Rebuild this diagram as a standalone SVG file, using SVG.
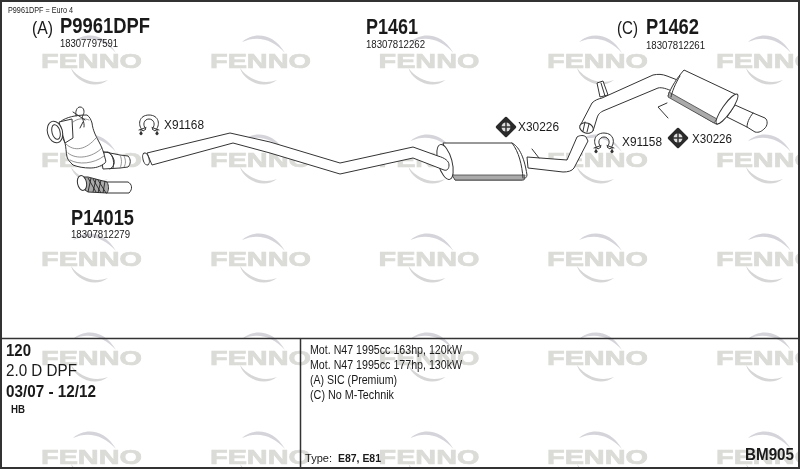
<svg xmlns="http://www.w3.org/2000/svg" xmlns:xlink="http://www.w3.org/1999/xlink" width="800" height="469" viewBox="0 0 800 469">
<style>
text{font-family:"Liberation Sans",Arial,sans-serif;fill:#1a1a1a}
.w{font-size:20px;font-weight:700;fill:#dbdcd8;stroke:#dbdcd8;stroke-width:.7}
.b{font-weight:700}
.p{fill:#fff;stroke:#333;stroke-width:1;stroke-linejoin:round}
.n{fill:none;stroke:#333;stroke-width:1;stroke-linecap:round;stroke-linejoin:round}
.l{fill:none;stroke:#777;stroke-width:.8;stroke-linecap:round}
.f{fill:#333;stroke:#222;stroke-width:.6}
</style>
<defs>
<filter id="soft" x="-5%" y="-5%" width="110%" height="110%"><feGaussianBlur stdDeviation=".35"/></filter>
<g id="arc"><path d="M33 -12C44 -22 64 -22 76 -1C64 -15 48 -19 33 -12Z" fill="#d4d4da"/><path d="M31 14C34 26 54 37 68 26C54 31 40 26 31 14Z" fill="#d6d6d6"/></g>
<g id="clamp"><path class="p" d="M-6 7C-12 1 -10 -9 0 -9C10 -9 12 1 6 7L3 5C7 1 5 -5 0 -5C-5 -5 -7 1 -3 5Z"/><path class="n" d="M-10 6L-3 3.500M-8 5.500V9M10 6L3 3.500M8 5.500V9"/><circle cx="-8" cy="9.500" r="1.300" class="f"/><circle cx="8" cy="9.500" r="1.300" class="f"/></g>
<g id="gasket"><path d="M0 -9L9 0L0 9L-9 0Z" fill="#2b2b2b" stroke="#2b2b2b" stroke-linejoin="round" stroke-width="2.500"/><circle r="4.500" fill="#ddd"/><path d="M0 -5V5M-5 0H5" stroke="#333" stroke-width="1.500"/></g>
</defs>
<rect width="800" height="469" fill="#fff"/>
<g id="watermark" filter="url(#soft)">
<use xlink:href="#arc" x="40" y="54"/><use xlink:href="#arc" x="209" y="54"/><use xlink:href="#arc" x="377.500" y="54"/><use xlink:href="#arc" x="546" y="54"/><use xlink:href="#arc" x="715" y="54"/>
<use xlink:href="#arc" x="40" y="153"/><use xlink:href="#arc" x="209" y="153"/><use xlink:href="#arc" x="377.500" y="153"/><use xlink:href="#arc" x="546" y="153"/><use xlink:href="#arc" x="715" y="153"/>
<use xlink:href="#arc" x="40" y="252"/><use xlink:href="#arc" x="209" y="252"/><use xlink:href="#arc" x="377.500" y="252"/><use xlink:href="#arc" x="546" y="252"/><use xlink:href="#arc" x="715" y="252"/>
<use xlink:href="#arc" x="40" y="351"/><use xlink:href="#arc" x="209" y="351"/><use xlink:href="#arc" x="377.500" y="351"/><use xlink:href="#arc" x="546" y="351"/><use xlink:href="#arc" x="715" y="351"/>
<use xlink:href="#arc" x="40" y="450"/><use xlink:href="#arc" x="209" y="450"/><use xlink:href="#arc" x="377.500" y="450"/><use xlink:href="#arc" x="546" y="450"/><use xlink:href="#arc" x="715" y="450"/>
<text class="w" x="41" y="68" textLength="101" lengthAdjust="spacingAndGlyphs">FENNO</text><text class="w" x="210" y="68" textLength="101" lengthAdjust="spacingAndGlyphs">FENNO</text><text class="w" x="378.500" y="68" textLength="101" lengthAdjust="spacingAndGlyphs">FENNO</text><text class="w" x="547" y="68" textLength="101" lengthAdjust="spacingAndGlyphs">FENNO</text><text class="w" x="716" y="68" textLength="101" lengthAdjust="spacingAndGlyphs">FENNO</text>
<text class="w" x="41" y="167" textLength="101" lengthAdjust="spacingAndGlyphs">FENNO</text><text class="w" x="210" y="167" textLength="101" lengthAdjust="spacingAndGlyphs">FENNO</text><text class="w" x="378.500" y="167" textLength="101" lengthAdjust="spacingAndGlyphs">FENNO</text><text class="w" x="547" y="167" textLength="101" lengthAdjust="spacingAndGlyphs">FENNO</text><text class="w" x="716" y="167" textLength="101" lengthAdjust="spacingAndGlyphs">FENNO</text>
<text class="w" x="41" y="266" textLength="101" lengthAdjust="spacingAndGlyphs">FENNO</text><text class="w" x="210" y="266" textLength="101" lengthAdjust="spacingAndGlyphs">FENNO</text><text class="w" x="378.500" y="266" textLength="101" lengthAdjust="spacingAndGlyphs">FENNO</text><text class="w" x="547" y="266" textLength="101" lengthAdjust="spacingAndGlyphs">FENNO</text><text class="w" x="716" y="266" textLength="101" lengthAdjust="spacingAndGlyphs">FENNO</text>
<text class="w" x="41" y="365" textLength="101" lengthAdjust="spacingAndGlyphs">FENNO</text><text class="w" x="210" y="365" textLength="101" lengthAdjust="spacingAndGlyphs">FENNO</text><text class="w" x="378.500" y="365" textLength="101" lengthAdjust="spacingAndGlyphs">FENNO</text><text class="w" x="547" y="365" textLength="101" lengthAdjust="spacingAndGlyphs">FENNO</text><text class="w" x="716" y="365" textLength="101" lengthAdjust="spacingAndGlyphs">FENNO</text>
<text class="w" x="41" y="464" textLength="101" lengthAdjust="spacingAndGlyphs">FENNO</text><text class="w" x="210" y="464" textLength="101" lengthAdjust="spacingAndGlyphs">FENNO</text><text class="w" x="378.500" y="464" textLength="101" lengthAdjust="spacingAndGlyphs">FENNO</text><text class="w" x="547" y="464" textLength="101" lengthAdjust="spacingAndGlyphs">FENNO</text><text class="w" x="716" y="464" textLength="101" lengthAdjust="spacingAndGlyphs">FENNO</text>
</g>
<g id="frame" fill="none" stroke="#333">
<rect x="1" y="1" width="798" height="467" stroke-width="2"/>
<path d="M1 338.500H799M300.500 338V468" stroke-width="1.500"/>
</g>
<g id="part-dpf" filter="url(#soft)">
<path class="p" d="M100 151L120 155L128 156C131 159 131 164 128 167L120 168L103 169Z"/>
<path class="l" d="M120 155C122 159 122 164 120 168M124 156C126 160 126 164 124 167"/>
<path class="n" d="M104 153C108 150 112 154 114 160C115 164 113 167 110 169M108 152C112 154 115 160 113 168"/>
<path class="p" d="M60 122C66 117 76 115 87 115C90 117 91 120 92 123C93 131 96 136 98 140C102 147 104 153 105 158C106 161 106 162 105 163C100 167 95 168 90 168C84 168 78 167 73 165C70 162 68 160 67 157C66 152 66 147 65 143C62 137 60 130 60 122Z"/>
<path class="l" d="M66 144C74 152 86 150 96 138M68 153C76 160 92 158 102 148M70 160C78 165 94 164 104 156M73 122C78 118 84 118 89 120"/>
<path class="p" d="M59 122L72 119L73 138L65 143Z"/>
<ellipse class="p" cx="55" cy="132" rx="7.500" ry="11" transform="rotate(-15 55 132)"/>
<ellipse class="n" cx="56" cy="132" rx="4" ry="7.500" transform="rotate(-15 56 132)"/>
<path class="n" stroke-width="1.300" d="M76 116C75 111 77 107 80 107C84 107 85 112 83 115C81 118 85 122 84 127M80 128L83 122M73 112L85 120"/>
</g>
<g id="part-p14015" filter="url(#soft)">
<path class="p" d="M104 182L128 182C132 184 133 189 129 193L106 193Z"/>
<path d="M84 177L88 177L107 182C109 186 109 190 107 193L88 192L85 190Z" fill="#aaa" stroke="#333"/>
<path d="M91 178L88 192M96 179L93 192M101 180L98 193M105 181L103 193M88 178L96 192M93 179L101 193M98 180L106 193" stroke="#222" stroke-width=".9" fill="none"/>
<ellipse class="p" cx="82" cy="183" rx="4.500" ry="7.500" transform="rotate(-12 82 183)"/>
</g>
<g id="part-p1461" filter="url(#soft)">
<path class="p" d="M443 143H512C518 146 524 155 527 175C527 177 525 179 522 180H455C450 168 446 155 443 143Z"/>
<path fill="#aaa" stroke="#444" stroke-width=".8" d="M452 175L525 175L524 180H455Z"/>
<path class="n" d="M512 143C519 152 522 165 523 178"/>
<ellipse class="p" cx="445" cy="162" rx="7" ry="18" transform="rotate(-15 445 162)"/>
<path class="p" d="M147 153L230 133L270 142L340 163L413 147L438 156C445 158 449 161 449 165C449 169 447 171 444 170L413 158L340 174L270 153L233 143L152 165Z"/>
<ellipse class="p" cx="146" cy="159" rx="3" ry="6.200" transform="rotate(-15 146 159)"/>
<path class="p" d="M527 157L567 160L577 137C580 135 584 135 586 137L588 141L574 168C572 171 568 172 563 172L528 168Z"/>
<path class="n" stroke-width="1.400" d="M532 149L539 158"/>
</g>
<g id="part-p1462" filter="url(#soft)">
<path class="p" d="M600 97L597 83L603 81L608 95Z"/>
<path class="n" d="M601 83L605 96"/>
<path class="p" d="M580 126L592 103C595 100 598 99 602 98L653 75C658 74 662 74 667 76L680 81L672 91C667 89 662 87 658 88L603 111C599 113 598 115 597 118L593 131C588 134 582 131 580 126Z"/>
<ellipse class="p" cx="586.500" cy="128" rx="7" ry="5" transform="rotate(20 586.500 128)"/>
<path class="n" d="M585 122L583 131M589 124L587 132"/>
<path class="n" stroke-width="1.600" d="M667 103L658 107L668 118"/>
<path class="p" d="M735 105L753 113L765 118C768 120 768 126 764 129C762 131 759 133 755 132L747 127L727 117Z"/>
<path class="n" d="M753 113C749 118 747 123 747 127"/>
<path class="p" d="M684 70L737 95C733 105 727 116 718 124L716 124L668 96C671 87 677 78 684 70Z"/>
<path fill="#aaa" stroke="#444" stroke-width=".8" d="M669 92L717 119L714 123L668 97Z"/>
<path class="n" d="M680 76C675 84 672 92 671 97"/>
<ellipse class="p" cx="727" cy="109" rx="4.500" ry="18" transform="rotate(35 727 109)"/>
</g>
<g id="hardware" filter="url(#soft)">
<use xlink:href="#clamp" x="149" y="124"/>
<use xlink:href="#clamp" x="604" y="142"/>
<use xlink:href="#gasket" x="506" y="127"/>
<use xlink:href="#gasket" x="678" y="138"/>
</g>
<g id="labels">
<text x="8" y="13" font-size="9" textLength="65" lengthAdjust="spacingAndGlyphs">P9961DPF = Euro 4</text>
<text x="32" y="34" font-size="19" textLength="21" lengthAdjust="spacingAndGlyphs">(A)</text>
<text class="b" x="60" y="33" font-size="22" textLength="90" lengthAdjust="spacingAndGlyphs">P9961DPF</text>
<text x="60" y="47" font-size="11" textLength="58" lengthAdjust="spacingAndGlyphs">18307797591</text>
<text class="b" x="71" y="225" font-size="22" textLength="63" lengthAdjust="spacingAndGlyphs">P14015</text>
<text x="71" y="238" font-size="11" textLength="59" lengthAdjust="spacingAndGlyphs">18307812279</text>
<text x="164" y="129" font-size="13" textLength="40" lengthAdjust="spacingAndGlyphs">X91168</text>
<text class="b" x="366" y="34" font-size="22" textLength="52" lengthAdjust="spacingAndGlyphs">P1461</text>
<text x="366" y="48" font-size="11" textLength="59" lengthAdjust="spacingAndGlyphs">18307812262</text>
<text x="518" y="131" font-size="13" textLength="41" lengthAdjust="spacingAndGlyphs">X30226</text>
<text x="617" y="34" font-size="19" textLength="21" lengthAdjust="spacingAndGlyphs">(C)</text>
<text class="b" x="646" y="34" font-size="22" textLength="53" lengthAdjust="spacingAndGlyphs">P1462</text>
<text x="646" y="49" font-size="11" textLength="59" lengthAdjust="spacingAndGlyphs">18307812261</text>
<text x="622" y="146" font-size="13" textLength="40" lengthAdjust="spacingAndGlyphs">X91158</text>
<text x="692" y="143" font-size="13" textLength="40" lengthAdjust="spacingAndGlyphs">X30226</text>
<text class="b" x="6" y="356" font-size="17" textLength="25" lengthAdjust="spacingAndGlyphs">120</text>
<text x="6" y="376" font-size="17" textLength="71" lengthAdjust="spacingAndGlyphs">2.0 D DPF</text>
<text class="b" x="6" y="397" font-size="17" textLength="90" lengthAdjust="spacingAndGlyphs">03/07 - 12/12</text>
<text class="b" x="11" y="413" font-size="10" textLength="14" lengthAdjust="spacingAndGlyphs">HB</text>
<text x="310" y="354" font-size="12" textLength="152" lengthAdjust="spacingAndGlyphs">Mot. N47 1995cc 163hp, 120kW</text>
<text x="310" y="369" font-size="12" textLength="152" lengthAdjust="spacingAndGlyphs">Mot. N47 1995cc 177hp, 130kW</text>
<text x="310" y="384" font-size="12" textLength="87" lengthAdjust="spacingAndGlyphs">(A) SIC (Premium)</text>
<text x="310" y="399" font-size="12" textLength="84" lengthAdjust="spacingAndGlyphs">(C) No M-Technik</text>
<text x="305" y="462" font-size="11" textLength="27" lengthAdjust="spacingAndGlyphs">Type:</text>
<text class="b" x="338" y="462" font-size="11" textLength="43" lengthAdjust="spacingAndGlyphs">E87, E81</text>
<text class="b" x="745" y="460" font-size="17" textLength="49" lengthAdjust="spacingAndGlyphs">BM905</text>
</g>
</svg>
